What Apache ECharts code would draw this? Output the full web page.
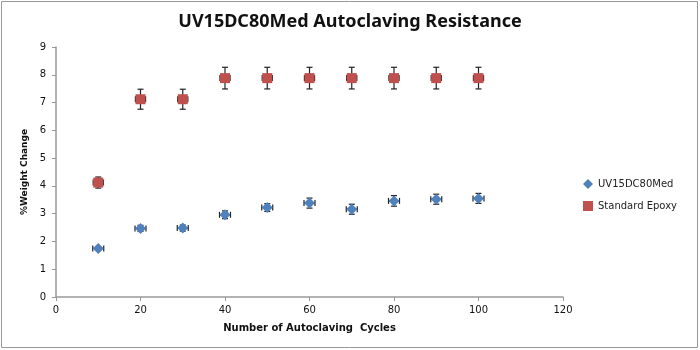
<!DOCTYPE html>
<html><head><meta charset="utf-8">
<script src="https://cdn.jsdelivr.net/npm/echarts@6/dist/echarts.min.js"></script>
<style>html,body{margin:0;padding:0;background:#fff}#c{width:700px;height:350px}</style>
</head><body><div id="c"></div>
<script>
const cycles = [10, 20, 30, 40, 50, 60, 70, 80, 90, 100];
const uvValues = [1.75, 2.47, 2.48, 2.96, 3.22, 3.38, 3.16, 3.46, 3.52, 3.55];
const uvYErr = [0.05, 0.11, 0.11, 0.14, 0.14, 0.18, 0.18, 0.19, 0.18, 0.18];
const uvXErr = [1.3, 1.3, 1.3, 1.3, 1.3, 1.3, 1.3, 1.3, 1.3, 1.3];
const epoxyValues = [4.12, 7.12, 7.12, 7.88, 7.88, 7.88, 7.88, 7.88, 7.88, 7.88];
const epoxyYErr = [0.2, 0.36, 0.36, 0.39, 0.39, 0.39, 0.39, 0.39, 0.39, 0.39];
const epoxyXErr = [1.2, 1.2, 1.2, 1.2, 1.2, 1.2, 1.2, 1.2, 1.2, 1.2];
const seriesNames = ['UV15DC80Med', 'Standard Epoxy'];

const chart = echarts.init(document.getElementById('c'));
const font = 'DejaVu Sans';

function errData(vals, yErr, xErr) {
  return cycles.map((c, i) => [c, vals[i], yErr[i], xErr[i]]);
}
function renderErr(params, api) {
  const x = api.value(0), y = api.value(1), ey = api.value(2), ex = api.value(3);
  const top = api.coord([x, y + ey]), bot = api.coord([x, y - ey]);
  const left = api.coord([x - ex, y]), right = api.coord([x + ex, y]);
  const cap = 3;
  const style = {stroke: '#222', lineWidth: 1.2};
  return {type: 'group', children: [
    {type: 'line', shape: {x1: top[0], y1: top[1], x2: bot[0], y2: bot[1]}, style},
    {type: 'line', shape: {x1: top[0] - cap, y1: top[1], x2: top[0] + cap, y2: top[1]}, style},
    {type: 'line', shape: {x1: bot[0] - cap, y1: bot[1], x2: bot[0] + cap, y2: bot[1]}, style},
    {type: 'line', shape: {x1: left[0], y1: left[1], x2: right[0], y2: right[1]}, style},
    {type: 'line', shape: {x1: left[0], y1: left[1] - cap, x2: left[0], y2: left[1] + cap}, style},
    {type: 'line', shape: {x1: right[0], y1: right[1] - cap, x2: right[0], y2: right[1] + cap}, style}
  ]};
}

chart.setOption({
  animation: false,
  backgroundColor: '#fff',
  title: {
    text: 'UV15DC80Med Autoclaving Resistance',
    left: 'center', top: 8,
    textStyle: {fontFamily: 'Noto Sans', fontWeight: 'bold', fontSize: 18, color: '#111'}
  },
  legend: {
    orient: 'vertical', right: 18, top: 174, itemGap: 12, itemWidth: 10, itemHeight: 10,
    textStyle: {fontFamily: font, fontSize: 10, color: '#222'},
    data: [{name: seriesNames[0], icon: 'diamond'}, {name: seriesNames[1], icon: 'rect'}]
  },
  grid: {left: 56, top: 47, right: 137, bottom: 53},
  xAxis: {
    type: 'value', min: 0, max: 120, interval: 20,
    name: 'Number of Autoclaving  Cycles', nameLocation: 'middle', nameGap: 26,
    nameTextStyle: {fontFamily: font, fontWeight: 'bold', fontSize: 10, color: '#111'},
    axisLine: {show: true, lineStyle: {color: '#999', width: 1.5}},
    axisTick: {show: true, length: 4, lineStyle: {color: '#999'}},
    axisLabel: {fontFamily: font, fontSize: 10, color: '#111', margin: 8},
    splitLine: {show: false}
  },
  yAxis: {
    type: 'value', min: 0, max: 9, interval: 1,
    name: '%Weight Change', nameLocation: 'middle', nameGap: 24, nameRotate: 90,
    nameTextStyle: {fontFamily: font, fontWeight: 'bold', fontSize: 9, color: '#111'},
    axisLine: {show: true, lineStyle: {color: '#999', width: 1.5}},
    axisTick: {show: true, length: 4, inside: false, lineStyle: {color: '#999'}},
    axisLabel: {fontFamily: font, fontSize: 10, color: '#111', margin: 10},
    splitLine: {show: false}
  },
  series: [
    {name: seriesNames[0], type: 'scatter', symbol: 'diamond', symbolSize: 11,
     itemStyle: {color: '#4F81BD', opacity: 1}, z: 5,
     data: cycles.map((c, i) => [c, uvValues[i]])},
    {name: seriesNames[1], type: 'scatter', symbol: 'rect', symbolSize: 10,
     itemStyle: {color: '#C0504D', opacity: 1}, z: 5,
     data: cycles.map((c, i) => [c, epoxyValues[i]])},
    {type: 'custom', renderItem: renderErr, z: 2, silent: true,
     data: errData(uvValues, uvYErr, uvXErr)},
    {type: 'custom', renderItem: renderErr, z: 2, silent: true,
     data: errData(epoxyValues, epoxyYErr, epoxyXErr)}
  ],
  graphic: [{type: 'rect', shape: {x: 1.5, y: 1.5, width: 696, height: 346},
    style: {fill: null, stroke: '#999', lineWidth: 1}, silent: true, z: 100}]
});
</script></body></html>
